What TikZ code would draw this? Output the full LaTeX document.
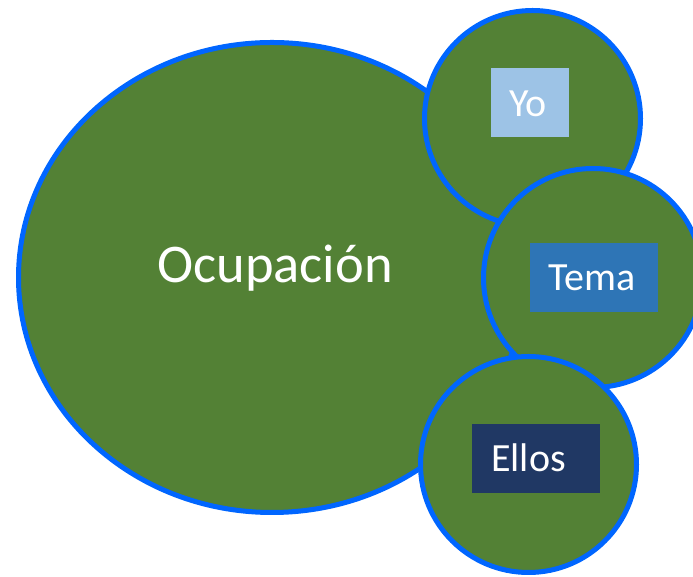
\documentclass[tikz,border=0pt]{standalone}
\usepackage{fontspec}
\setmainfont{Carlito}
\usetikzlibrary{shapes.geometric}
\definecolor{leaf}{HTML}{538135}
\definecolor{rim}{HTML}{0066FF}
\definecolor{yobox}{HTML}{9DC3E6}
\definecolor{temabox}{HTML}{2E75B6}
\definecolor{ellosbox}{HTML}{203864}
\tikzset{
  bubble/.style={fill=leaf, draw=rim, line width=5pt},
  tag/.style={rectangle, inner sep=0pt, minimum height=69pt},
  lbl/.style={text=white, font=\fontsize{40}{48}\selectfont, inner sep=0pt, anchor=base},
}
\begin{document}
\begin{tikzpicture}[x=1pt,y=1pt]
\useasboundingbox (0,0) rectangle (693,577);
\clip (0,0) rectangle (693,577);
\fill[white] (0,0) rectangle (693,577);
% big ellipse
\draw[bubble] (272,299.5) ellipse [x radius=253.5, y radius=235];
\node[text=white, font=\fontsize{54.5}{64}\selectfont, inner sep=0pt, anchor=base] (ocu) at (275,294) {Ocupación};
% Yo
\draw[bubble] (532.5,458.5) circle [radius=108];
\node[tag, fill=yobox, minimum width=78pt] (yob) at (530,474.5) {};
\node[lbl] (yot) at (528,460) {Yo};
% Tema
\draw[bubble] (593,299) circle [radius=109.5];
\node[tag, fill=temabox, minimum width=128pt] (temab) at (594,299.5) {};
\node[lbl] (temat) at (592,286.3) {Tema};
% Ellos
\draw[bubble] (528.5,112.5) circle [radius=108];
\node[tag, fill=ellosbox, minimum width=128pt] (ellosb) at (536,118.5) {};
\node[lbl] (ellost) at (528.5,105.3) {Ellos};
\end{tikzpicture}
\end{document}
